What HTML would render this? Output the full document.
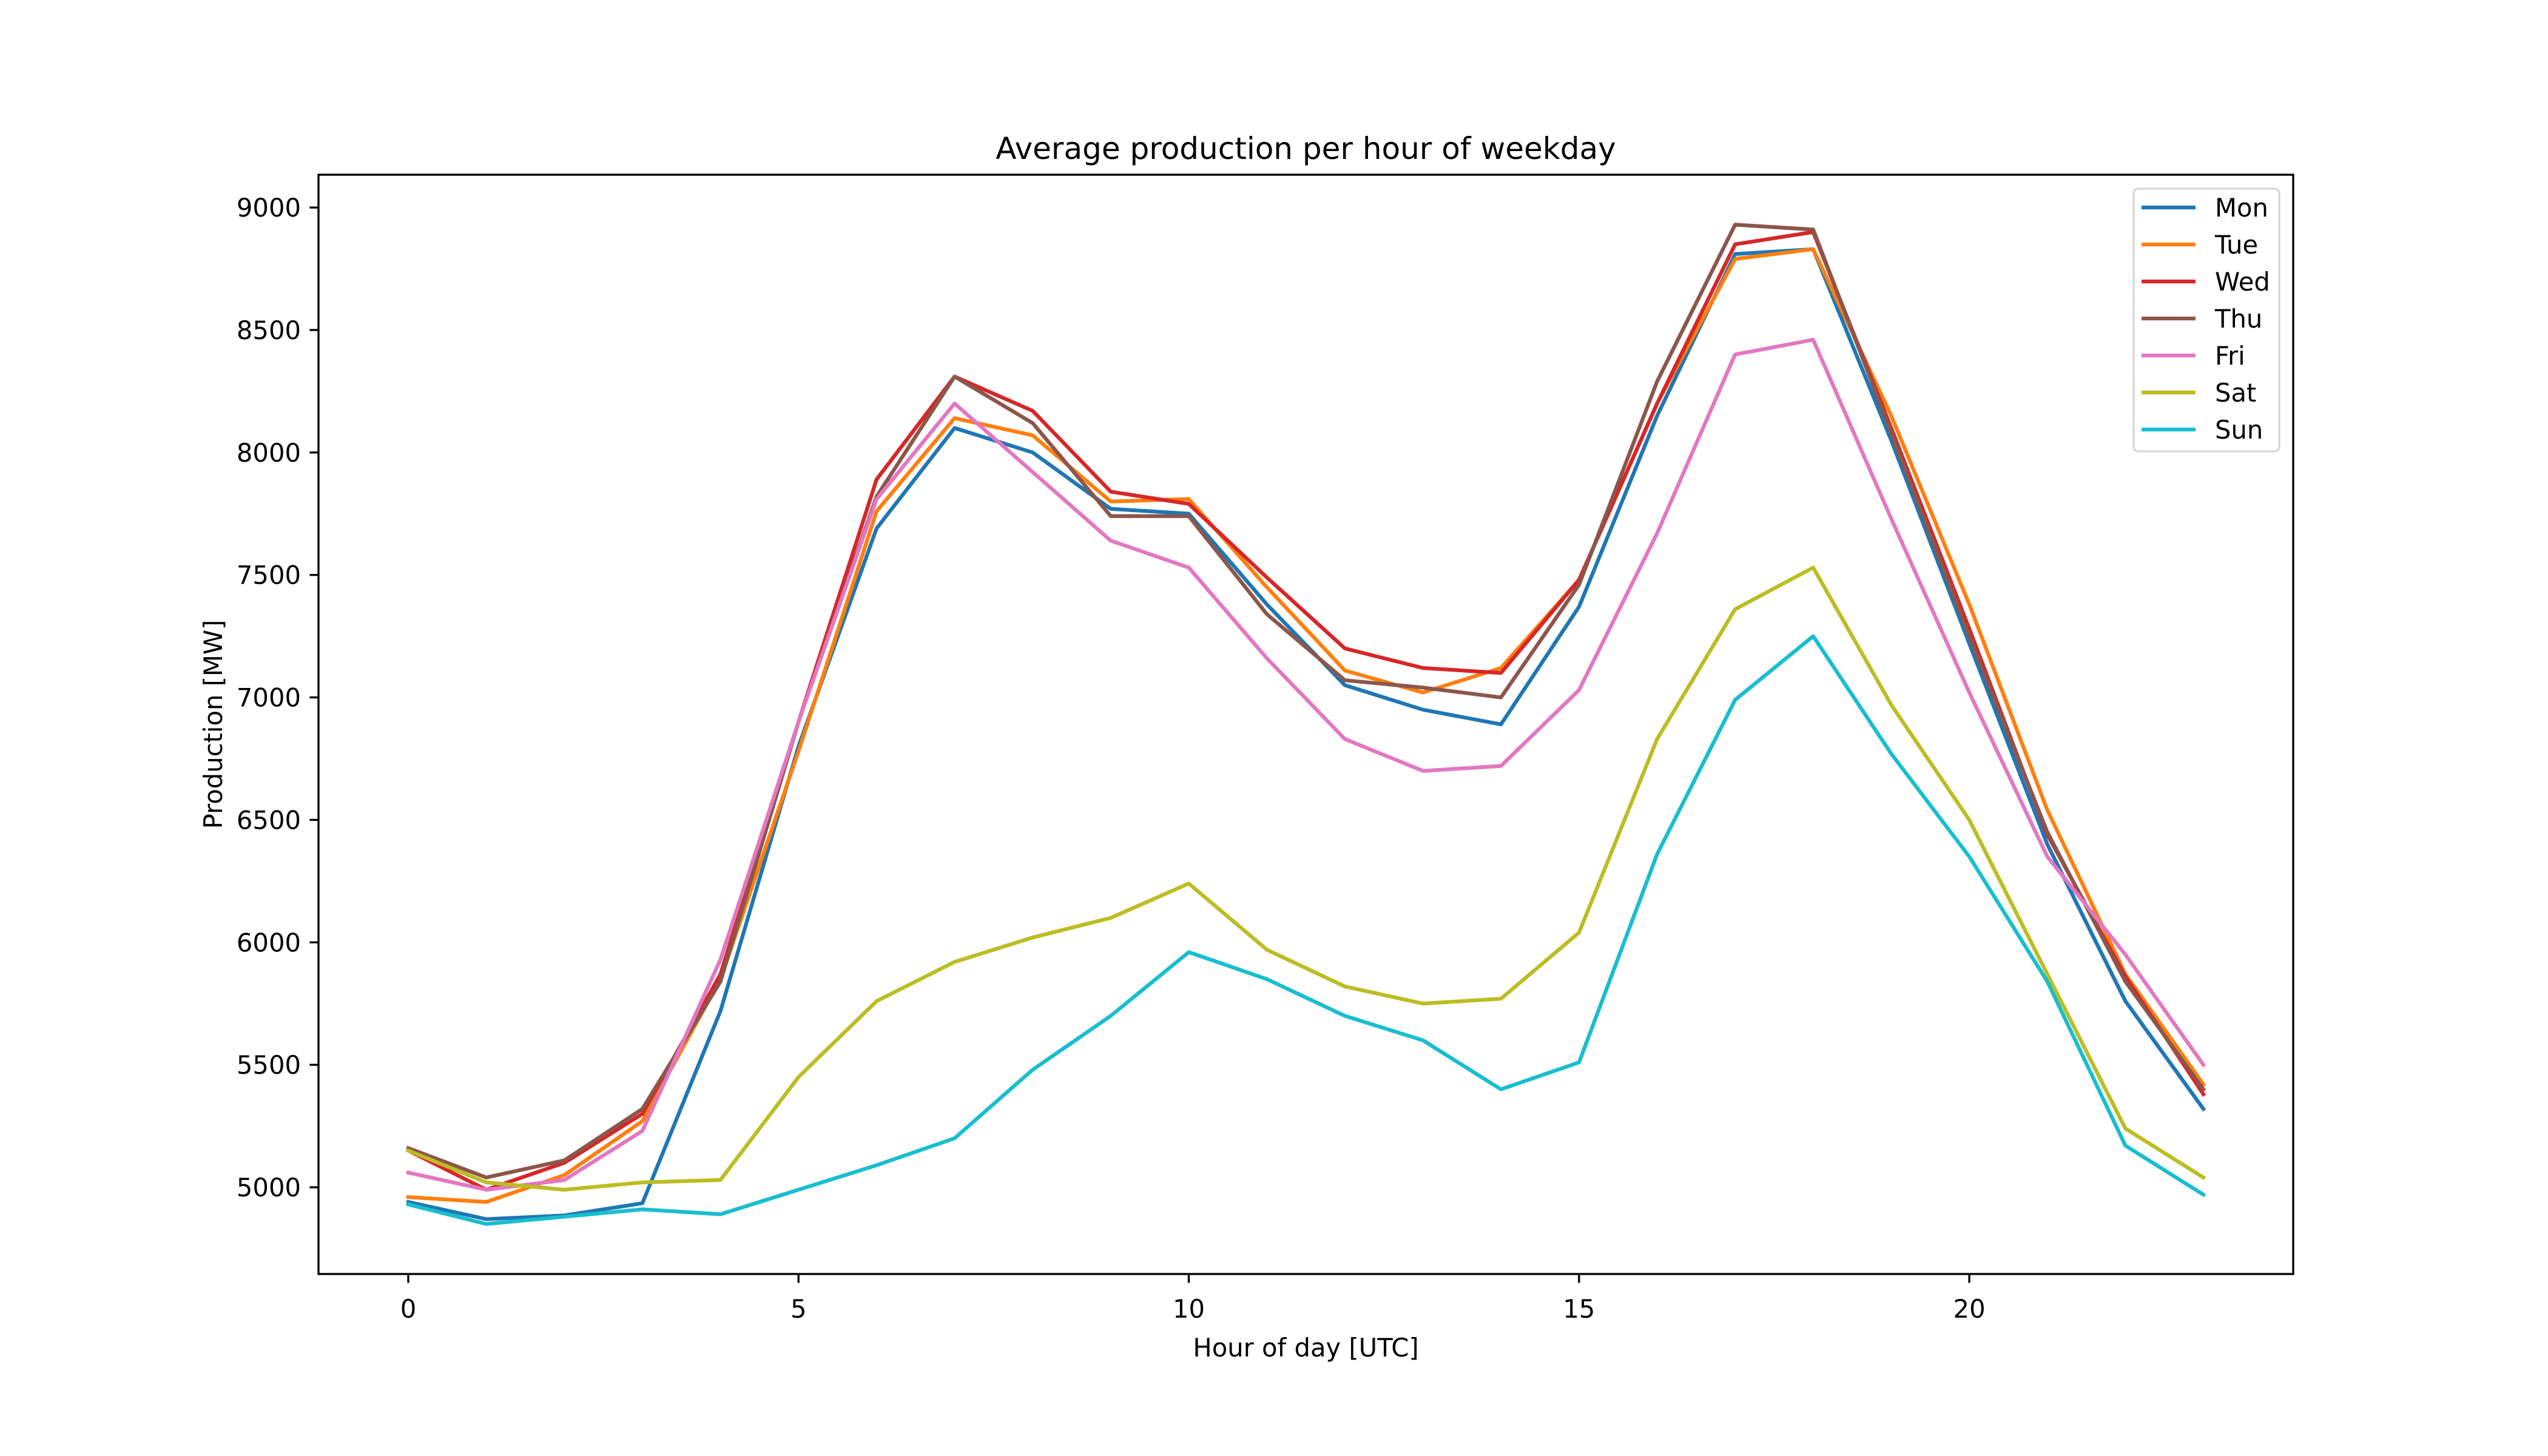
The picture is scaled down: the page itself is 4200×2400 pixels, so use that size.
<!DOCTYPE html>
<html><head><meta charset="utf-8"><style>
html,body{margin:0;padding:0;background:#fff;}
svg{display:block;}
text{font-family:"DejaVu Sans","Liberation Sans",sans-serif;fill:#000;}
</style></head><body>
<svg id="chart" width="4200" height="2400" viewBox="0 0 4200 2400" xmlns="http://www.w3.org/2000/svg">
<rect x="0" y="0" width="4200" height="2400" fill="#fff"/>
<g id="plot"></g>
</svg>
<script>
const hours = [0,1,2,3,4,5,6,7,8,9,10,11,12,13,14,15,16,17,18,19,20,21,22,23];
const xTicks = [0,5,10,15,20];
const yTicks = [5000,5500,6000,6500,7000,7500,8000,8500,9000];
const seriesNames = ["Mon","Tue","Wed","Thu","Fri","Sat","Sun"];
const seriesColors = ["#1f77b4","#ff7f0e","#d62728","#8c564b","#e377c2","#bcbd22","#17becf"];
const mon = [4940,4870,4885,4935,5720,6800,7690,8100,8000,7770,7750,7380,7050,6950,6890,7370,8150,8810,8830,8050,7220,6400,5760,5320];
const tue = [4960,4940,5050,5270,5850,6780,7760,8140,8070,7800,7810,7450,7110,7020,7120,7480,8200,8790,8830,8150,7380,6540,5870,5420];
const wed = [5150,4990,5100,5300,5870,6900,7890,8310,8170,7840,7790,7490,7200,7120,7100,7480,8200,8850,8900,8100,7280,6440,5860,5380];
const thu = [5160,5040,5110,5320,5840,6900,7820,8310,8120,7740,7740,7340,7070,7040,7000,7460,8290,8930,8910,8080,7250,6450,5840,5400];
const fri = [5060,4990,5030,5230,5930,6900,7810,8200,7920,7640,7530,7160,6830,6700,6720,7030,7670,8400,8460,7730,7020,6350,5950,5500];
const sat = [5150,5020,4990,5020,5030,5450,5760,5920,6020,6100,6240,5970,5820,5750,5770,6040,6830,7360,7530,6970,6500,5870,5240,5040];
const sun = [4930,4850,4880,4910,4890,4990,5090,5200,5480,5700,5960,5850,5700,5600,5400,5510,6360,6990,7250,6770,6350,5840,5170,4970];
const allSeries = [mon,tue,wed,thu,fri,sat,sun];

const NS = "http://www.w3.org/2000/svg";
const L = 525, R = 3780, T = 288, B = 2100;
const xmin0 = Math.min(...hours), xmax0 = Math.max(...hours);
const xpad = (xmax0 - xmin0) * 0.05;
const xlo = xmin0 - xpad, xhi = xmax0 + xpad;
let vals = [].concat(...allSeries);
const ymin0 = Math.min(...vals), ymax0 = Math.max(...vals);
const ypad = (ymax0 - ymin0) * 0.05;
const ylo = ymin0 - ypad, yhi = ymax0 + ypad;
function xs(v){ return L + (v - xlo) / (xhi - xlo) * (R - L); }
function ys(v){ return B - (v - ylo) / (yhi - ylo) * (B - T); }
const plot = document.getElementById('plot');
function mk(tag, attrs){ const e = document.createElementNS(NS, tag); for (const k in attrs) e.setAttribute(k, attrs[k]); return e; }

// series
allSeries.forEach((s, i) => {
  const pts = s.map((v, j) => xs(hours[j]).toFixed(1) + "," + ys(v).toFixed(1)).join(" ");
  const pl = mk('polyline', {points: pts, fill: 'none', stroke: seriesColors[i], 'stroke-width': 6.25, 'stroke-linejoin': 'round', 'stroke-linecap': 'square'});
  
  
  plot.appendChild(pl);
});

// frame
const fr = mk('rect', {x: L, y: T, width: R - L, height: B - T, fill: 'none', stroke: '#000', 'stroke-width': 3.33});


plot.appendChild(fr);

// x ticks
xTicks.forEach(t => {
  const x = xs(t);
  const tk = mk('line', {x1: x, y1: B, x2: x, y2: B + 14.6, stroke: '#000', 'stroke-width': 3.33});
  
  
  plot.appendChild(tk);
  const tx = mk('text', {x: x, y: B + 72, 'font-size': 41.7, 'text-anchor': 'middle'});
  
  
  tx.textContent = t;
  plot.appendChild(tx);
});
// y ticks
yTicks.forEach(t => {
  const y = ys(t);
  const tk = mk('line', {x1: L - 14.6, y1: y, x2: L, y2: y, stroke: '#000', 'stroke-width': 3.33});
  
  
  plot.appendChild(tk);
  const tx = mk('text', {x: L - 29, y: y + 15, 'font-size': 41.7, 'text-anchor': 'end'});
  
  
  tx.textContent = t;
  plot.appendChild(tx);
});

// titles
const title = mk('text', {x: (L + R) / 2, y: 262, 'font-size': 50, 'text-anchor': 'middle'});


title.textContent = 'Average production per hour of weekday';
plot.appendChild(title);
const xl = mk('text', {x: (L + R) / 2, y: 2236, 'font-size': 41.7, 'text-anchor': 'middle'});


xl.textContent = 'Hour of day [UTC]';
plot.appendChild(xl);
const yl = mk('text', {x: 0, y: 0, 'font-size': 41.7, 'text-anchor': 'middle', transform: 'translate(366,' + ((T + B) / 2) + ') rotate(-90)'});


yl.textContent = 'Production [MW]';
plot.appendChild(yl);

// legend
const lg = mk('g', {});


plot.appendChild(lg);
const lb = mk('rect', {x: 3517, y: 311, width: 240, height: 433, rx: 8, fill: '#fff', 'fill-opacity': 0.8, stroke: '#d6d6d6', 'stroke-width': 3.33});


lg.appendChild(lb);
seriesNames.forEach((n, i) => {
  const y = 342 + i * 61;
  const ln = mk('line', {x1: 3530, y1: y, x2: 3619, y2: y, stroke: seriesColors[i], 'stroke-width': 6.25});
  
  
  lg.appendChild(ln);
  const tx = mk('text', {x: 3651, y: y + 15, 'font-size': 41.7});
  
  
  tx.textContent = n;
  lg.appendChild(tx);
});
</script>
</body></html>
